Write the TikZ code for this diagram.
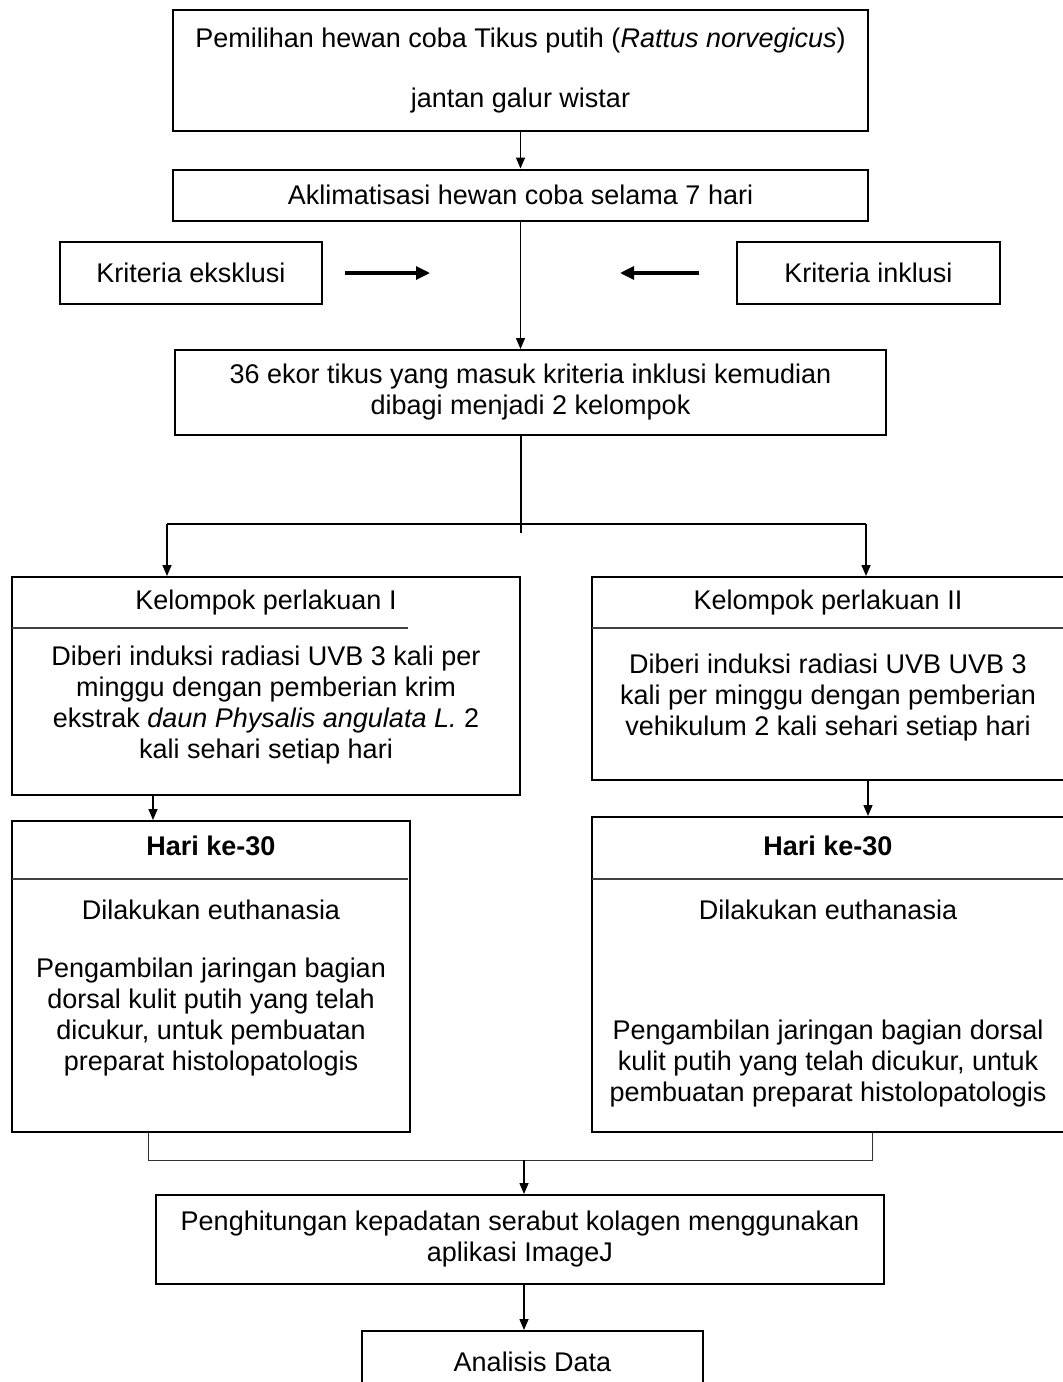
\documentclass[tikz,border=0pt]{standalone}
\usepackage{fontspec}
\setmainfont{Liberation Sans}
\usetikzlibrary{arrows.meta}

\begin{document}
\begin{tikzpicture}[x=0.5pt, y=-0.5pt,
  every node/.style={font=\fontsize{13.5}{15.5}\selectfont, align=center, inner sep=0pt},
  stepbox/.style={draw, line width=1pt},
  divider/.style={line width=0.6pt, black!75},
  link/.style={line width=0.75pt},
  arr/.style={line width=0.75pt, -{Triangle[length=5.5pt, width=4.5pt]}},
  bigarr/.style={line width=1.6pt, -{Triangle[length=7pt, width=6.5pt]}},
  merge/.style={line width=0.5pt, black!80}]

  \useasboundingbox (0,0) rectangle (1062,1382);

  \node[stepbox, minimum width=347.5pt, minimum height=60.5pt] (pilih) at (520.5,70.5)
    {Pemilihan hewan coba Tikus putih (\textit{Rattus norvegicus})\\[14.5pt] jantan galur wistar};
  \node[stepbox, minimum width=347.5pt, minimum height=25.5pt] (aklim) at (520.5,195)
    {Aklimatisasi hewan coba selama 7 hari};
  \node[stepbox, minimum width=131pt, minimum height=31pt] (eks) at (191,273) {Kriteria eksklusi};
  \node[stepbox, minimum width=131.5pt, minimum height=31pt] (ink) at (868.5,273) {Kriteria inklusi};
  \node[stepbox, minimum width=355.5pt, minimum height=42.5pt] (bagi) at (530.5,392.5)
    {36 ekor tikus yang masuk kriteria inklusi kemudian\\ dibagi menjadi 2 kelompok};

  \node[stepbox, minimum width=254pt, minimum height=109pt] (k1) at (266,686) {};
  \node (k1h) at (266,603) {Kelompok perlakuan I};
  \node (k1b) at (266,705.5) {Diberi induksi radiasi UVB 3 kali per\\ minggu dengan pemberian krim\\
    ekstrak \textit{daun Physalis angulata L.} 2\\ kali sehari setiap hari};
  \draw[divider] (12,628) -- (408,628);

  \node[stepbox, minimum width=236pt, minimum height=101.5pt] (k2) at (828,678.5) {};
  \node (k2h) at (828,603) {Kelompok perlakuan II};
  \node (k2b) at (828,698) {Diberi induksi radiasi UVB UVB 3\\ kali per minggu dengan pemberian\\
    vehikulum 2 kali sehari setiap hari};
  \draw[divider] (592,628) -- (1064,628);

  \node[stepbox, minimum width=199pt, minimum height=155.5pt] (h1) at (211,976.5) {};
  \node[font=\fontsize{13.5}{15.5}\selectfont\bfseries] (h1h) at (211,846) {Hari ke-30};
  \node (h1e) at (211,910) {Dilakukan euthanasia};
  \node (h1b) at (211,1017) {Pengambilan jaringan bagian\\ dorsal kulit putih yang telah\\
    dicukur, untuk pembuatan\\ preparat histolopatologis};
  \draw[divider] (12,879) -- (408,879);

  \node[stepbox, minimum width=236pt, minimum height=157.5pt] (h2) at (828,974.5) {};
  \node[font=\fontsize{13.5}{15.5}\selectfont\bfseries] (h2h) at (828,846) {Hari ke-30};
  \node (h2e) at (828,910) {Dilakukan euthanasia};
  \node (h2b) at (828,1064) {Pengambilan jaringan bagian dorsal\\ kulit putih yang telah dicukur, untuk\\
    pembuatan preparat histolopatologis};
  \draw[divider] (592,879) -- (1064,879);

  \node[stepbox, minimum width=364pt, minimum height=44.5pt] (hitung) at (520,1239.5)
    {Penghitungan kepadatan serabut kolagen menggunakan\\ aplikasi ImageJ};
  \node[stepbox, minimum width=170.5pt, minimum height=30.5pt] (analisis) at (532.5,1361.5) {Analisis Data};

  \coordinate (e1) at (345,273);
  \coordinate (e2) at (430,273);
  \coordinate (i1) at (699,273);
  \coordinate (i2) at (620,273);
  \coordinate (spl) at (521,524);
  \coordinate (bl) at (167,524);
  \coordinate (br) at (866,524);
  \coordinate (a1) at (153,0);
  \coordinate (a2) at (868,0);
  \coordinate (ml) at (148,1160);
  \coordinate (mr) at (872,1160);
  \coordinate (mm) at (524,1160);

  \draw[arr] (pilih.south) -- (aklim.north);
  \draw[arr] (aklim.south) -- (aklim.south |- bagi.north);
  \draw[bigarr] (e1) -- (e2);
  \draw[bigarr] (i1) -- (i2);
  \draw[link] (spl |- bagi.south) -- (spl) -- ++(0,9);
  \draw[link] (bl) -- (br);
  \draw[arr] (bl) -- (bl |- k1.north);
  \draw[arr] (br) -- (br |- k2.north);
  \draw[arr] (a1 |- k1.south) -- (a1 |- h1.north);
  \draw[arr] (a2 |- k2.south) -- (a2 |- h2.north);
  \draw[merge] (ml |- h1.south) -- (ml) -- (mr) -- (mr |- h2.south);
  \draw[arr] (mm) -- (mm |- hitung.north);
  \draw[arr] (mm |- hitung.south) -- (mm |- analisis.north);
\end{tikzpicture}
\end{document}
